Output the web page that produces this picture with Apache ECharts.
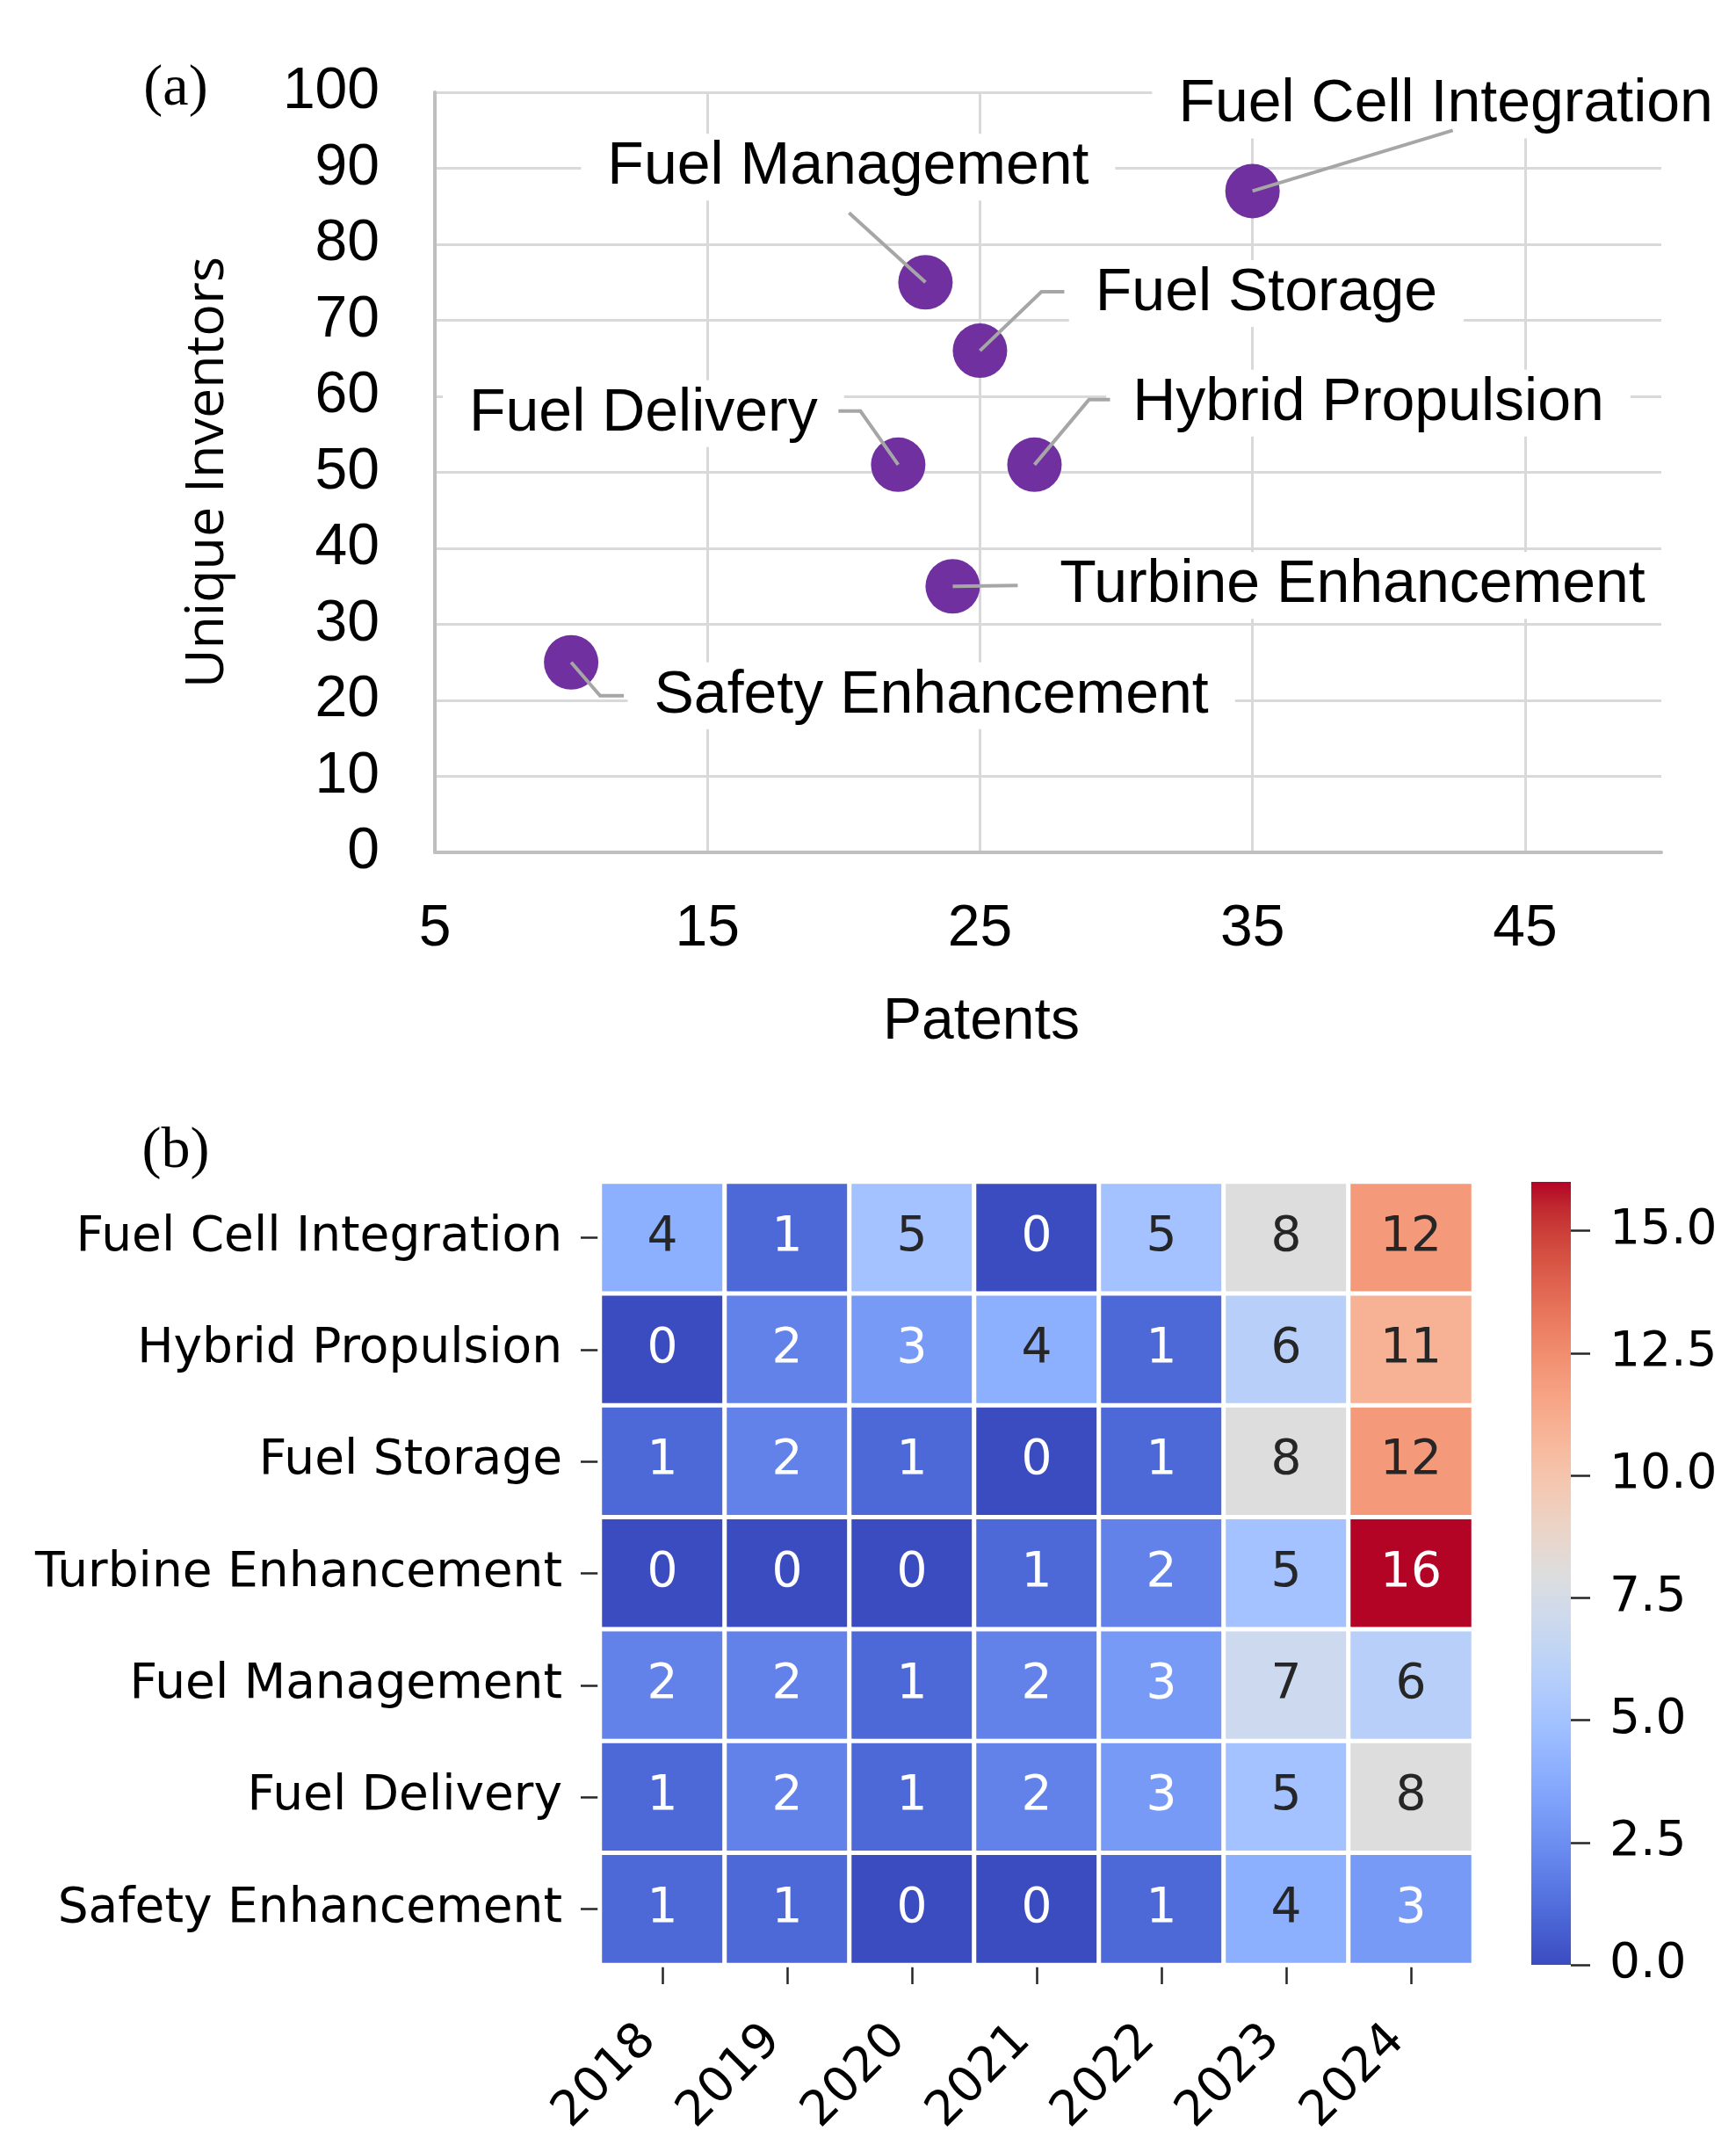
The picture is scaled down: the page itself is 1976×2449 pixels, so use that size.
<!DOCTYPE html>
<html><head><meta charset="utf-8">
<script src="https://cdn.jsdelivr.net/npm/echarts@6/dist/echarts.min.js"></script>
<style>html,body{margin:0;padding:0;background:#fff}#c{width:1976px;height:2449px}</style>
</head><body><div id="c"></div>
<script>
// ---------- data: panel (a) ----------
const techNames = ['Fuel Cell Integration','Fuel Management','Fuel Storage','Hybrid Propulsion','Fuel Delivery','Turbine Enhancement','Safety Enhancement'];
const patents   = [35, 23, 25, 27, 22, 24, 10];
const inventors = [87, 75, 66, 51, 51, 35, 25];

// ---------- data: panel (b) ----------
const years  = ['2018','2019','2020','2021','2022','2023','2024'];
const topics = ['Fuel Cell Integration','Hybrid Propulsion','Fuel Storage','Turbine Enhancement','Fuel Management','Fuel Delivery','Safety Enhancement'];
const yearlyCounts = [
  [4,1,5,0,5,8,12],
  [0,2,3,4,1,6,11],
  [1,2,1,0,1,8,12],
  [0,0,0,1,2,5,16],
  [2,2,1,2,3,7,6],
  [1,2,1,2,3,5,8],
  [1,1,0,0,1,4,3]
];
const colorMin = 0, colorMax = 16;
const colorbarTicks = [0, 2.5, 5, 7.5, 10, 12.5, 15];

// ---------- styling ----------
const coolwarm = [
 [59,76,192],[68,90,204],[77,104,215],[87,117,225],[98,130,234],[108,142,241],[119,154,247],[130,165,251],
 [141,176,254],[152,185,255],[163,194,255],[174,201,253],[184,208,249],[194,213,244],[204,217,238],[213,219,230],
 [221,221,221],[229,216,209],[236,211,197],[241,204,185],[245,196,173],[247,187,160],[247,177,148],[247,166,135],
 [244,154,123],[241,141,111],[236,127,99],[229,112,88],[222,96,77],[213,80,66],[203,62,56],[192,40,47],[180,4,38]
];
const cwHex = coolwarm.map(c => 'rgb(' + c.join(',') + ')');
function cwAt(t) {
  t = Math.max(0, Math.min(1, t));
  const p = t * (coolwarm.length - 1), i = Math.min(Math.floor(p), coolwarm.length - 2), f = p - i;
  return coolwarm[i].map((v, k) => v + (coolwarm[i + 1][k] - v) * f);
}
function textColorFor(v) {
  const c = cwAt((v - colorMin) / (colorMax - colorMin)).map(x => {
    x /= 255; return x <= 0.03928 ? x / 12.92 : Math.pow((x + 0.055) / 1.055, 2.4);
  });
  const lum = 0.2126 * c[0] + 0.7152 * c[1] + 0.0722 * c[2];
  return lum > 0.408 ? '#262626' : '#ffffff';
}
// label centre offsets from the point (px)
const labelOffsets = {
  'Fuel Cell Integration': [220, -98],
  'Fuel Management': [-88, -131],
  'Fuel Storage': [326, -65],
  'Hybrid Propulsion': [380, -70],
  'Fuel Delivery': [-290, -58],
  'Turbine Enhancement': [455, -1],
  'Safety Enhancement': [410, 38]
};
// leader-line path offsets from the point centre (px)
const leaderPaths = {
  'Fuel Cell Integration': [[228, -69]],
  'Fuel Management': [[-87, -79]],
  'Fuel Storage': [[70, -67], [96, -67]],
  'Hybrid Propulsion': [[62, -74], [86, -74]],
  'Fuel Delivery': [[-43, -61], [-68, -61]],
  'Turbine Enhancement': [[74, -1]],
  'Safety Enhancement': [[33, 38], [60, 38]]
};

const scatterData = techNames.map((n, i) => ({ name: n, value: [patents[i], inventors[i]] }));
const heatData = [];
topics.forEach((t, r) => years.forEach((y, c) => {
  const v = yearlyCounts[r][c];
  heatData.push({ value: [c, r, v], label: { color: textColorFor(v) } });
}));
const gradStops = cwHex.map((col, i) => ({ offset: i / (cwHex.length - 1), color: col }));

const SANS = 'Liberation Sans';
const DJV = 'DejaVu Sans';
const chart = echarts.init(document.getElementById('c'), null, { renderer: 'canvas' });
chart.setOption({
  animation: false,
  backgroundColor: '#fff',
  grid: [
    { left: 495, top: 105, width: 1396, height: 865 },
    { left: 683, top: 1345, width: 994, height: 891 },
    { left: 1743, top: 1345, width: 45, height: 891 }
  ],
  xAxis: [
    { gridIndex: 0, type: 'value', min: 5, max: 50, interval: 10,
      axisLine: { show: true, lineStyle: { color: '#bfbfbf', width: 4 } },
      axisTick: { show: false },
      axisLabel: { fontFamily: SANS, fontSize: 66, color: '#000', margin: 55, showMaxLabel: false },
      splitLine: { show: true, showMinLine: false, showMaxLine: false, lineStyle: { color: '#d9d9d9', width: 3 } } },
    { gridIndex: 1, type: 'category', data: years, position: 'bottom',
      axisLine: { show: false },
      axisTick: { show: true, alignWithLabel: true, length: 22, lineStyle: { color: '#262626', width: 2.5 } },
      axisLabel: { rotate: 45, fontFamily: DJV, fontSize: 55, color: '#000', margin: 62, padding: [0, 22, 0, 0] },
      splitLine: { show: false } },
    { gridIndex: 2, type: 'value', min: 0, max: 1, show: false }
  ],
  yAxis: [
    { gridIndex: 0, type: 'value', min: 0, max: 100, interval: 10,
      axisLine: { show: true, lineStyle: { color: '#bfbfbf', width: 4 } },
      axisTick: { show: false },
      axisLabel: { fontFamily: SANS, fontSize: 66, color: '#000', margin: 63 },
      splitLine: { show: true, showMinLine: false, lineStyle: { color: '#d9d9d9', width: 3 } },
      name: 'Unique Inventors', nameLocation: 'middle', nameGap: 228,
      nameTextStyle: { fontFamily: 'Open Sans', fontSize: 61, color: '#000' } },
    { gridIndex: 1, type: 'category', data: topics, inverse: true,
      axisLine: { show: false },
      axisTick: { show: true, alignWithLabel: true, length: 22, lineStyle: { color: '#262626', width: 2.5 } },
      axisLabel: { fontFamily: DJV, fontSize: 55, color: '#000', margin: 43 },
      splitLine: { show: false } },
    { gridIndex: 2, type: 'value', min: colorMin, max: colorMax, position: 'right',
      axisLine: { show: false, onZero: false },
      axisTick: { show: true, length: 22, customValues: colorbarTicks, lineStyle: { color: '#262626', width: 2.5 } },
      axisLabel: { customValues: colorbarTicks, formatter: v => Number(v).toFixed(1), fontFamily: DJV, fontSize: 55, color: '#000', margin: 44 },
      splitLine: { show: false } }
  ],
  visualMap: [{
    type: 'continuous', show: false, min: colorMin, max: colorMax, dimension: 2, seriesIndex: 1,
    inRange: { color: cwHex }
  }],
  series: [
    { type: 'scatter', xAxisIndex: 0, yAxisIndex: 0, data: scatterData, symbolSize: 62, z: 2,
      itemStyle: { color: '#7030a0', opacity: 1 },
      label: { show: true, position: 'inside', formatter: '{b}', fontFamily: SANS, fontSize: 68, color: '#000',
               textBorderWidth: 0, backgroundColor: '#fff', padding: [4, 30] },
      labelLayout: function (p) { const o = labelOffsets[techNames[p.dataIndex]]; return { dx: o[0], dy: o[1] }; },
      emphasis: { disabled: true } },
    { type: 'heatmap', xAxisIndex: 1, yAxisIndex: 1, data: heatData,
      label: { show: true, fontFamily: DJV, fontSize: 55, textBorderWidth: 0 },
      itemStyle: { borderColor: '#fff', borderWidth: 5 },
      emphasis: { disabled: true } },
    { type: 'custom', xAxisIndex: 2, yAxisIndex: 2, silent: true,
      data: [[colorMin, colorMax]],
      encode: { y: [0, 1] },
      renderItem: function (params, api) {
        const top = api.coord([0, api.value(1)]);
        const bot = api.coord([1, api.value(0)]);
        return { type: 'rect', shape: { x: top[0], y: top[1], width: bot[0] - top[0], height: bot[1] - top[1] },
                 style: { fill: new echarts.graphic.LinearGradient(0, 1, 0, 0, gradStops) } };
      } },
    { type: 'custom', xAxisIndex: 0, yAxisIndex: 0, silent: true, z: 5,
      data: scatterData,
      renderItem: function (params, api) {
        const c = api.coord([api.value(0), api.value(1)]);
        const path = leaderPaths[techNames[params.dataIndex]];
        const pts = [c].concat(path.map(o => [c[0] + o[0], c[1] + o[1]]));
        return { type: 'polyline', shape: { points: pts },
                 style: { stroke: '#a6a6a6', lineWidth: 4, fill: null } };
      } }
  ],
  graphic: [
    { type: 'text', x: 200, y: 102, style: { text: '(a)', font: '66px "Liberation Serif"', fill: '#000', align: 'center', verticalAlign: 'middle' } },
    { type: 'text', x: 200, y: 1311, style: { text: '(b)', font: '66px "Liberation Serif"', fill: '#000', align: 'center', verticalAlign: 'middle' } },
    { type: 'text', x: 1117, y: 1164, style: { text: 'Patents', font: '66px "Liberation Sans"', fill: '#000', align: 'center', verticalAlign: 'middle' } }
  ]
});
</script></body></html>
